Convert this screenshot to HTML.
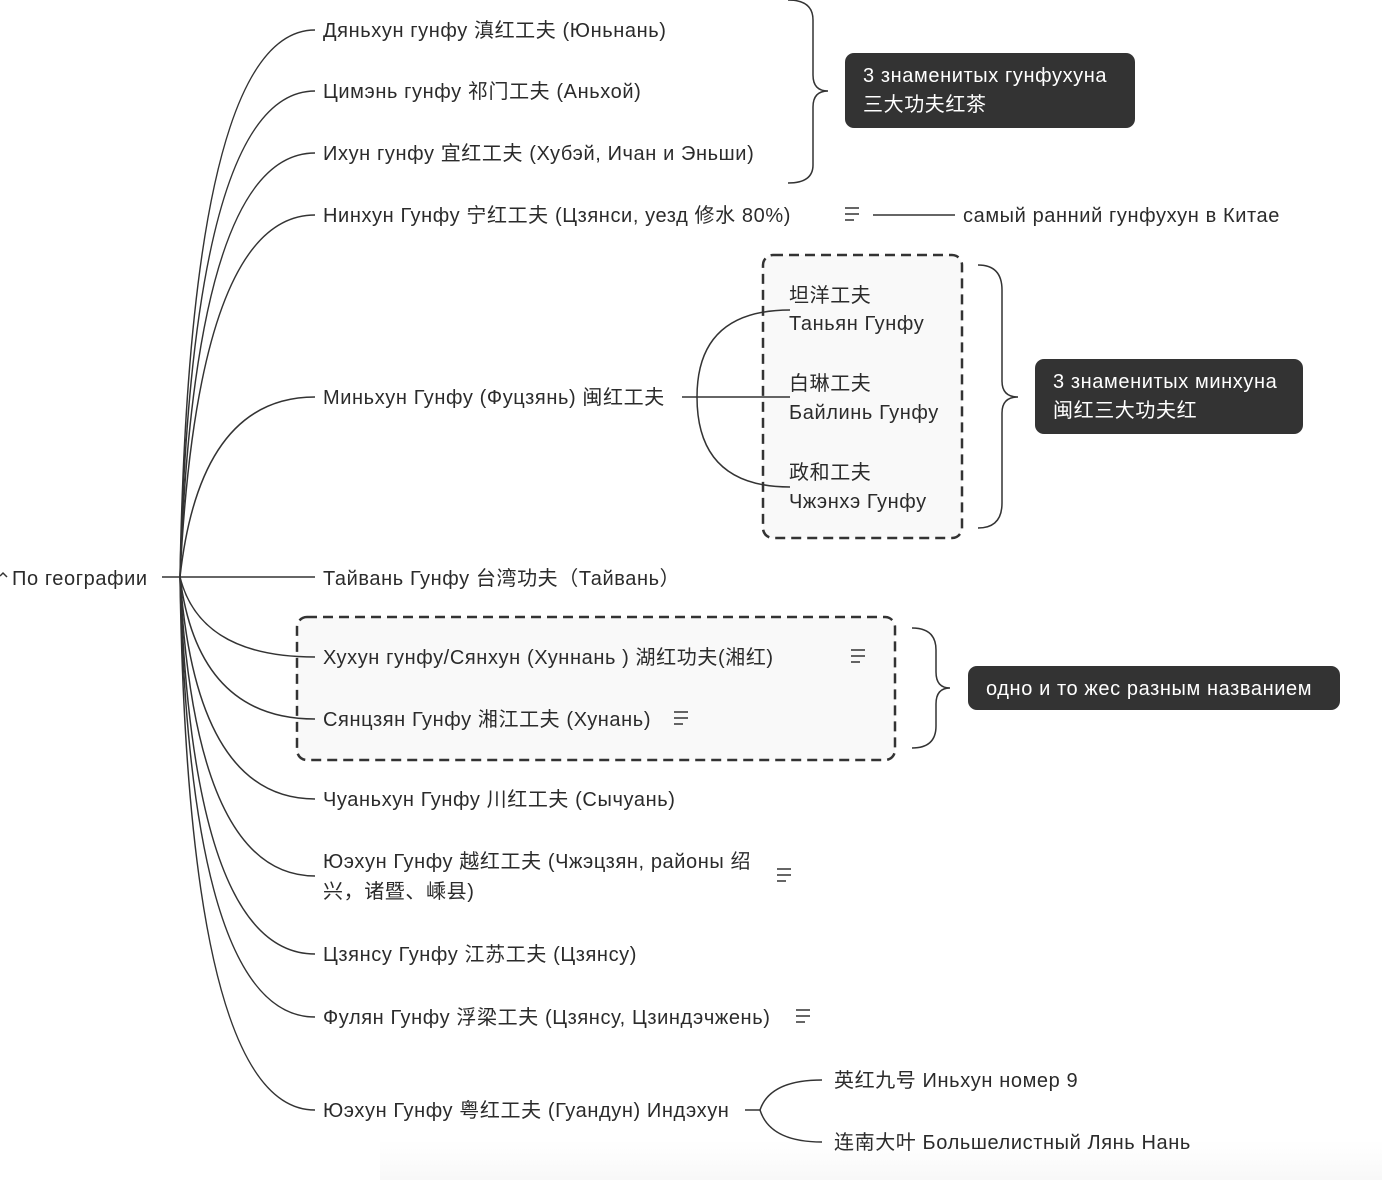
<!DOCTYPE html>
<html><head><meta charset="utf-8"><style>
html,body{margin:0;padding:0;background:#fff;width:1382px;height:1180px;overflow:hidden}
svg text{font-family:"Liberation Sans","Noto Sans CJK SC",sans-serif;font-size:20px;letter-spacing:0.6px;fill:#2b2b2b}
</style></head><body>
<svg width="1382" height="1180" viewBox="0 0 1382 1180" xmlns="http://www.w3.org/2000/svg">
<defs><linearGradient id="g" x1="0" y1="0" x2="0" y2="1"><stop offset="0" stop-color="#fff"/><stop offset="1" stop-color="#f8f8f8"/></linearGradient></defs>
<rect x="380" y="1140" width="1002" height="40" fill="url(#g)"/>
<g fill="none" stroke="#333" stroke-width="1.5">
<path d="M162 577 H315"/>
<path d="M180 577 Q190 30 315 30"/>
<path d="M180 577 Q192 91 315 91"/>
<path d="M180 577 Q195 153 315 153"/>
<path d="M180 577 Q198 215 315 215"/>
<path d="M180 577 Q200 397 315 397"/>
<path d="M180 577 Q196 799 315 799"/>
<path d="M180 577 Q194 876 315 876"/>
<path d="M180 577 Q192 954 315 954"/>
<path d="M180 577 Q190 1017 315 1017"/>
<path d="M180 577 Q188 1110 315 1110"/>
<path d="M873 215 H955"/>
<path d="M745 1110 H760"/>
<path d="M760 1110 Q770 1080 822 1080"/>
<path d="M760 1110 Q770 1142 822 1142"/>
<path d="M788 0 Q813 0 813 20 V75 Q813 91 828 91 Q813 91 813 107 V165 Q813 183 788 183"/>
<path d="M978 265 Q1002 265 1002 290 V381 Q1002 397 1018 397 Q1002 397 1002 413 V503 Q1002 528 978 528"/>
<path d="M912 628 Q936 628 936 650 V672 Q936 688 950 688 Q936 688 936 704 V726 Q936 748 912 748"/>
</g>
<rect x="763" y="255" width="199" height="283" rx="10" fill="#f5f5f5" fill-opacity="0.6" stroke="#333" stroke-width="2.5" stroke-dasharray="10 6"/>
<rect x="297" y="617" width="598" height="143" rx="10" fill="#f5f5f5" fill-opacity="0.6" stroke="#333" stroke-width="2.5" stroke-dasharray="10 6"/>
<g fill="none" stroke="#333" stroke-width="1.5">
<path d="M180 577 Q200 657 315 657"/><path d="M180 577 Q198 719 315 719"/>
<path d="M682 397 H790"/>
<path d="M697 397 Q697 310 790 310"/><path d="M697 397 Q697 487 790 487"/>
</g>
<rect x="845" y="53" width="290" height="75" rx="9" fill="#333"/>
<rect x="1035" y="359" width="268" height="75" rx="9" fill="#333"/>
<rect x="968" y="666" width="372" height="44" rx="9" fill="#333"/>
<g stroke="#333" stroke-width="1.5" fill="none">
<path d="M845 208h14M845 214h14M845 220h9"/>
<path d="M851 650h14M851 656h14M851 662h9"/>
<path d="M674 712h14M674 718h14M674 724h9"/>
<path d="M777 869h14M777 875h14M777 881h9"/>
<path d="M796 1010h14M796 1016h14M796 1022h9"/>
<path d="M0 576l3-3 4 4"/>
</g>
<text x="12" y="585">По географии</text>
<text x="323" y="37">Дяньхун гунфу 滇红工夫 (Юньнань)</text>
<text x="323" y="98">Цимэнь гунфу 祁门工夫 (Аньхой)</text>
<text x="323" y="160">Ихун гунфу 宜红工夫 (Хубэй,  Ичан и Эньши)</text>
<text x="323" y="222">Нинхун Гунфу 宁红工夫 (Цзянси, уезд 修水 80%)</text>
<text x="963" y="222">самый ранний гунфухун в Китае</text>
<text x="323" y="404">Миньхун Гунфу (Фуцзянь) 闽红工夫</text>
<text x="789" y="302">坦洋工夫</text><text x="789" y="330">Таньян Гунфу</text>
<text x="789" y="390">白琳工夫</text><text x="789" y="419">Байлинь Гунфу</text>
<text x="789" y="479">政和工夫</text><text x="789" y="508">Чжэнхэ Гунфу</text>
<text x="323" y="585">Тайвань Гунфу 台湾功夫（Тайвань）</text>
<text x="323" y="664">Хухун гунфу/Сянхун (Хуннань ) 湖红功夫(湘红)</text>
<text x="323" y="726">Сянцзян Гунфу 湘江工夫 (Хунань)</text>
<text x="323" y="806">Чуаньхун Гунфу 川红工夫 (Сычуань)</text>
<text x="323" y="868">Юэхун Гунфу 越红工夫 (Чжэцзян, районы 绍</text>
<text x="323" y="898">兴，诸暨、嵊县)</text>
<text x="323" y="961">Цзянсу Гунфу 江苏工夫 (Цзянсу)</text>
<text x="323" y="1024">Фулян Гунфу 浮梁工夫 (Цзянсу, Цзиндэчжень)</text>
<text x="323" y="1117">Юэхун Гунфу 粤红工夫 (Гуандун) Индэхун</text>
<text x="834" y="1087">英红九号 Иньхун номер 9</text>
<text x="834" y="1149">连南大叶 Большелистный Лянь Нань</text>
<text x="863" y="82" style="fill:#fff">3 знаменитых гунфухуна</text>
<text x="863" y="111" style="fill:#fff">三大功夫红茶</text>
<text x="1053" y="388" style="fill:#fff">3 знаменитых минхуна</text>
<text x="1053" y="417" style="fill:#fff">闽红三大功夫红</text>
<text x="986" y="695" style="fill:#fff">одно и то жес разным названием</text>
</svg>
</body></html>
